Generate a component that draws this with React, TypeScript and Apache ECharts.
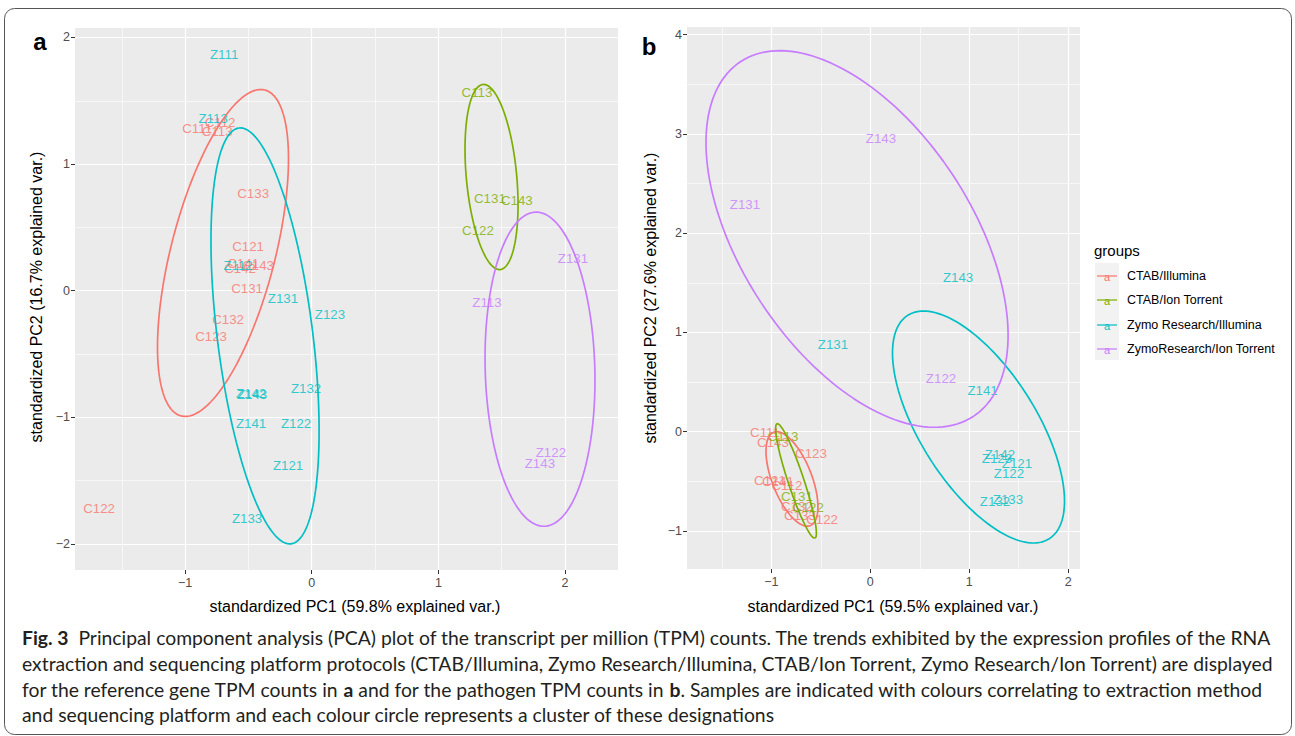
import React, { useEffect, useRef } from 'react';
import * as echarts from 'echarts';

const COLORS = ['#F8766D', '#7CAE00', '#00BFC4', '#C77CFF'];
const GROUPS = ['CTAB/Illumina', 'CTAB/Ion Torrent', 'Zymo Research/Illumina', 'ZymoResearch/Ion Torrent'];

type Pt = [string, number, number];

// Panel a: reference gene TPM counts
const A_CTAB_ILLUMINA: Pt[] = [
  ['C111', -0.905, 1.284], ['C112', -0.724, 1.331], ['C113', -0.747, 1.261], ['C133', -0.463, 0.764],
  ['C121', -0.503, 0.353], ['C141', -0.542, 0.211], ['C142', -0.566, 0.179], ['C143', -0.424, 0.203],
  ['C131', -0.511, 0.021], ['C132', -0.661, -0.224], ['C123', -0.795, -0.358], ['C122', -1.68, -1.724],
];
const A_CTAB_ION: Pt[] = [
  ['C113', 1.305, 1.569], ['C131', 1.407, 0.732], ['C143', 1.62, 0.709], ['C122', 1.313, 0.472],
];
const A_ZYMO_ILLUMINA: Pt[] = [
  ['Z111', -0.692, 1.869], ['Z113', -0.779, 1.364], ['Z112', -0.582, 0.203], ['Z131', -0.227, -0.065],
  ['Z123', 0.144, -0.184], ['Z142', -0.479, -0.808], ['Z143', -0.471, -0.816], ['Z132', -0.045, -0.776],
  ['Z141', -0.479, -1.045], ['Z122', -0.124, -1.045], ['Z121', -0.187, -1.384], ['Z133', -0.511, -1.803],
];
const A_ZYMO_ION: Pt[] = [
  ['Z131', 2.063, 0.258], ['Z113', 1.384, -0.097], ['Z122', 1.889, -1.274], ['Z143', 1.802, -1.361],
];
// ellipse: [cx, cy, semi-major, semi-minor, angle deg]
const A_ELLIPSES: number[][] = [
  [-0.701, 0.298, 1.329, 0.411, 75.6],
  [1.42, 0.898, 0.734, 0.199, 95.3],
  [-0.369, -0.357, 1.655, 0.377, 97.15],
  [1.803, -0.62, 1.241, 0.433, 91.6],
];

// Panel b: pathogen TPM counts
const B_CTAB_ILLUMINA: Pt[] = [
  ['C111', -1.065, -0.013], ['C143', -0.984, -0.104], ['C123', -0.6, -0.224], ['C121', -1.014, -0.496],
  ['C141', -0.934, -0.506], ['C112', -0.843, -0.547], ['C132', -0.742, -0.758], ['C133', -0.711, -0.849],
  ['C122', -0.488, -0.889],
];
const B_CTAB_ION: Pt[] = [
  ['C113', -0.883, -0.053], ['C131', -0.741, -0.657], ['C122', -0.63, -0.768],
];
const B_ZYMO_ILLUMINA: Pt[] = [
  ['Z143', 0.887, 1.558], ['Z131', -0.377, 0.883], ['Z141', 1.135, 0.41], ['Z142', 1.311, -0.234],
  ['Z123', 1.281, -0.274], ['Z121', 1.483, -0.325], ['Z122', 1.402, -0.426], ['Z132', 1.261, -0.708],
  ['Z133', 1.392, -0.688],
];
const B_ZYMO_ION: Pt[] = [
  ['Z143', 0.108, 2.958], ['Z131', -1.267, 2.291], ['Z122', 0.715, 0.531],
];
const B_ELLIPSES: number[][] = [
  [-0.792, -0.476, 0.505, 0.2, -68.5],
  [-0.751, -0.496, 0.607, 0.08, -71.6],
  [1.094, 0.047, 1.333, 0.586, -57.55],
  [-0.134, 1.941, 2.139, 1.163, -56.55],
];

const A_X_RANGE = [-1.87, 2.419];
const A_Y_RANGE = [-2.206, 2.075];
const B_X_RANGE = [-1.853, 2.12];
const B_Y_RANGE = [-1.383, 4.076];

const A_X_MAJOR = [-1, 0, 1, 2];
const A_X_MINOR = [-1.5, -0.5, 0.5, 1.5];
const A_Y_MAJOR = [-2, -1, 0, 1, 2];
const A_Y_MINOR = [-1.5, -0.5, 0.5, 1.5];
const B_X_MAJOR = [-1, 0, 1, 2];
const B_X_MINOR = [-1.5, -0.5, 0.5, 1.5];
const B_Y_MAJOR = [-1, 0, 1, 2, 3, 4];
const B_Y_MINOR = [-0.5, 0.5, 1.5, 2.5, 3.5];

const CAPTION = [
  '{b|Fig. 3}  Principal component analysis (PCA) plot of the transcript per million (TPM) counts. The trends exhibited by the expression profiles of the RNA',
  'extraction and sequencing platform protocols (CTAB/Illumina, Zymo Research/Illumina, CTAB/Ion Torrent, Zymo Research/Ion Torrent) are displayed',
  'for the reference gene TPM counts in {b|a} and for the pathogen TPM counts in {b|b}. Samples are indicated with colours correlating to extraction method',
  'and sequencing platform and each colour circle represents a cluster of these designations',
];

const FONT = '"Liberation Sans", Arial, Helvetica, sans-serif';

function ellipsePoints(e: number[]) {
  const [cx, cy, a, b, deg] = e;
  const th = (deg * Math.PI) / 180;
  const pts: number[][] = [];
  const n = 160;
  for (let i = 0; i <= n; i++) {
    const t = (2 * Math.PI * i) / n;
    pts.push([
      cx + a * Math.cos(th) * Math.cos(t) - b * Math.sin(th) * Math.sin(t),
      cy + a * Math.sin(th) * Math.cos(t) + b * Math.cos(th) * Math.sin(t),
    ]);
  }
  return pts;
}

const fmt = (v: number) => (v < 0 ? '\u2212' + Math.abs(v) : String(v));

function axis(grid: number, range: number[], major: number[], isX: boolean) {
  return {
    type: 'value', gridIndex: grid, min: range[0], max: range[1],
    position: isX ? 'bottom' : 'left',
    axisLine: { show: false, onZero: false },
    axisTick: { show: true, customValues: major, length: 4, lineStyle: { color: '#333', width: 1 } },
    axisLabel: { show: true, customValues: major, formatter: fmt, color: '#4d4d4d', fontSize: 12.5, fontFamily: FONT, margin: isX ? 6 : 5 },
    splitLine: { show: false },
    minorTick: { show: false }, minorSplitLine: { show: false },
  };
}

function gridSeries(pi: number, xs: number[], ys: number[], width: number) {
  return {
    type: 'line', xAxisIndex: pi, yAxisIndex: pi, data: [], silent: true, z: 1,
    markLine: {
      silent: true, z: 1, zlevel: 0, symbol: ['none', 'none'], label: { show: false },
      lineStyle: { color: '#ffffff', width, type: 'solid', opacity: 1 },
      emphasis: { disabled: true },
      data: [...xs.map((v) => ({ xAxis: v })), ...ys.map((v) => ({ yAxis: v }))],
    },
  };
}

function fitFont(text: string, family: string, target: number) {
  const c = document.createElement('canvas').getContext('2d');
  if (!c) return 16;
  c.font = `normal 100px ${family}`;
  return (100 * target) / c.measureText(text).width;
}

export default function App() {
  const ref = useRef<HTMLDivElement>(null);
  useEffect(() => {
    if (!ref.current) return;
    const chart = echarts.init(ref.current, undefined, { renderer: 'svg' });
    const capFamily = 'Lato';
    const capSize = fitFont(CAPTION[1], capFamily, 1252);

    const panels = [
      { groups: [A_CTAB_ILLUMINA, A_CTAB_ION, A_ZYMO_ILLUMINA, A_ZYMO_ION], ellipses: A_ELLIPSES },
      { groups: [B_CTAB_ILLUMINA, B_CTAB_ION, B_ZYMO_ILLUMINA, B_ZYMO_ION], ellipses: B_ELLIPSES },
    ];
    const series: any[] = [
      gridSeries(0, A_X_MINOR, A_Y_MINOR, 0.6),
      gridSeries(0, A_X_MAJOR, A_Y_MAJOR, 1.2),
      gridSeries(1, B_X_MINOR, B_Y_MINOR, 0.6),
      gridSeries(1, B_X_MAJOR, B_Y_MAJOR, 1.2),
    ];
    panels.forEach((p, pi) => {
      p.groups.forEach((g, gi) => {
        series.push({
          type: 'scatter', name: GROUPS[gi], xAxisIndex: pi, yAxisIndex: pi,
          data: g.map((d) => [d[1], d[2], d[0]]), symbolSize: 1,
          itemStyle: { color: 'rgba(0,0,0,0)' }, silent: true, z: 4,
          label: { show: true, position: 'inside', formatter: (q: any) => q.data[2], color: COLORS[gi], fontSize: 13.3, fontFamily: FONT },
        });
      });
      p.ellipses.forEach((e, gi) => {
        series.push({
          type: 'line', xAxisIndex: pi, yAxisIndex: pi, data: ellipsePoints(e),
          showSymbol: false, symbol: 'none', silent: true, z: 6,
          lineStyle: { color: COLORS[gi], width: 1.7 },
        });
      });
    });

    const legendY = [276, 300, 325, 349];
    const graphic: any[] = [
      { type: 'rect', shape: { x: 4.5, y: 8.5, width: 1287, height: 726, r: 10 }, style: { fill: 'none', stroke: '#555', lineWidth: 1 }, silent: true },
      { type: 'text', x: 40, y: 41, style: { text: 'a', font: `bold 24px ${FONT}`, fill: '#000', align: 'center', verticalAlign: 'middle' } },
      { type: 'text', x: 649, y: 46, style: { text: 'b', font: `bold 24px ${FONT}`, fill: '#000', align: 'center', verticalAlign: 'middle' } },
      { type: 'text', x: 355, y: 606, style: { text: 'standardized PC1 (59.8% explained var.)', font: `16px ${FONT}`, fill: '#000', align: 'center', verticalAlign: 'middle' } },
      { type: 'text', x: 893, y: 606, style: { text: 'standardized PC1 (59.5% explained var.)', font: `16px ${FONT}`, fill: '#000', align: 'center', verticalAlign: 'middle' } },
      { type: 'text', x: 36, y: 297, rotation: Math.PI / 2, style: { text: 'standardized PC2 (16.7% explained var.)', font: `16px ${FONT}`, fill: '#000', align: 'center', verticalAlign: 'middle' } },
      { type: 'text', x: 650, y: 298, rotation: Math.PI / 2, style: { text: 'standardized PC2 (27.6% explained var.)', font: `16px ${FONT}`, fill: '#000', align: 'center', verticalAlign: 'middle' } },
      { type: 'text', x: 1094, y: 250, style: { text: 'groups', font: `15px ${FONT}`, fill: '#000', align: 'left', verticalAlign: 'middle' } },
      { type: 'rect', shape: { x: 1095, y: 263, width: 24, height: 97 }, style: { fill: '#f2f2f2' }, silent: true },
    ];
    GROUPS.forEach((g, i) => {
      const y = legendY[i];
      graphic.push({ type: 'line', shape: { x1: 1097, y1: y, x2: 1117, y2: y }, style: { stroke: COLORS[i], lineWidth: 1.2 } });
      graphic.push({ type: 'text', x: 1107, y: y + 1, style: { text: 'a', font: `11px ${FONT}`, fill: COLORS[i], align: 'center', verticalAlign: 'middle' } });
      graphic.push({ type: 'text', x: 1127, y: y, style: { text: g, font: `12.5px ${FONT}`, fill: '#000', align: 'left', verticalAlign: 'middle' } });
    });
    const capY = [637, 663, 689, 714];
    CAPTION.forEach((t, i) => {
      graphic.push({
        type: 'text', x: 22, y: capY[i],
        style: {
          text: t, fontFamily: capFamily, fontSize: capSize, fill: '#231f20', align: 'left', verticalAlign: 'middle',
          rich: { b: { fontFamily: capFamily, fontSize: capSize, fontWeight: 'bold', fill: '#231f20' } },
        },
      });
    });

    chart.setOption({
      animation: false,
      backgroundColor: '#ffffff',
      grid: [
        { left: 75, top: 28, width: 543, height: 542, show: true, backgroundColor: '#ebebeb', borderWidth: 0 },
        { left: 687, top: 27, width: 393, height: 542, show: true, backgroundColor: '#ebebeb', borderWidth: 0 },
      ],
      xAxis: [axis(0, A_X_RANGE, A_X_MAJOR, true), axis(1, B_X_RANGE, B_X_MAJOR, true)],
      yAxis: [axis(0, A_Y_RANGE, A_Y_MAJOR, false), axis(1, B_Y_RANGE, B_Y_MAJOR, false)],
      series,
      graphic,
    });
    return () => chart.dispose();
  }, []);
  return (
    <div ref={ref} style={{ position: 'fixed', left: 0, top: 0, width: 1295, height: 736, background: '#fff' }} />
  );
}
